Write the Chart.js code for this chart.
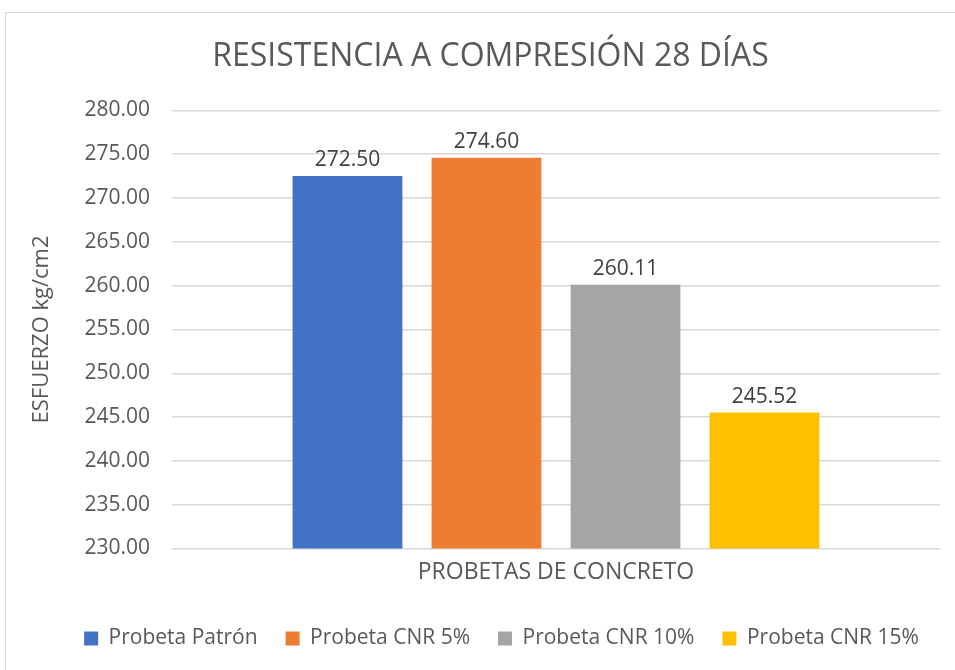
<!DOCTYPE html>
<html>
<head>
<meta charset="utf-8">
<script src="https://cdn.jsdelivr.net/npm/chart.js@4.4.0/dist/chart.umd.min.js"></script>
<style>
  html, body { margin: 0; padding: 0; background: #fff; overflow: hidden; }
  body { width: 955px; height: 670px; position: relative; }
  #frame { position: absolute; left: 5px; top: 12px; width: 970px; height: 680px;
           border: 1px solid #d9d9d9; box-sizing: border-box; }
  #wrap { position: absolute; left: 5px; top: 12px; width: 970px; height: 680px; }
</style>
</head>
<body>
<div id="frame"></div>
<div id="wrap"><canvas id="chart"></canvas></div>
<script>
// datos del gráfico
const categories = ['PROBETAS DE CONCRETO'];
const seriesNames = ['Probeta Patrón', 'Probeta CNR 5%', 'Probeta CNR 10%', 'Probeta CNR 15%'];
const seriesValues = [[272.50], [274.60], [260.11], [245.52]];
const seriesColors = ['#4472C4', '#ED7D31', '#A5A5A5', '#FFC000'];
const yMin = 230, yMax = 280, yStep = 5;

const FONT = "'Open Sans', 'Noto Sans', sans-serif";
const TEXT = '#595959';

// etiquetas de datos encima de cada barra
const dataLabels = {
    id: 'dataLabels',
    afterDatasetsDraw(chart) {
        const ctx = chart.ctx;
        ctx.save();
        ctx.font = `21px ${FONT}`;
        ctx.fillStyle = '#404040';
        ctx.textAlign = 'center';
        ctx.textBaseline = 'alphabetic';
        chart.data.datasets.forEach((ds, i) => {
            const meta = chart.getDatasetMeta(i);
            meta.data.forEach((bar, j) => {
                ctx.fillText(ds.data[j].toFixed(2), bar.x, bar.y - 10);
            });
        });
        ctx.restore();
    }
};

// desplazar leyenda y título un poco a la derecha (como en Excel)
const shiftBlocks = {
    id: 'shiftBlocks',
    afterLayout(chart) {
        const lg = chart.legend;
        if (lg) {
            lg.left += 24;
            lg.right += 24;
            if (lg.adjustHitBoxes) lg.adjustHitBoxes();
        }
        const tb = chart.titleBlock;
        if (tb) {
            tb.left += 13;
            tb.right += 13;
        }
    }
};

const datasets = seriesNames.map((name, i) => ({
    label: name,
    data: seriesValues[i],
    backgroundColor: seriesColors[i],
    borderWidth: 0,
    categoryPercentage: 0.724,
    barPercentage: 0.79
}));

new Chart(document.getElementById('chart'), {
    type: 'bar',
    data: { labels: categories, datasets: datasets },
    plugins: [dataLabels, shiftBlocks],
    options: {
        responsive: true,
        maintainAspectRatio: false,
        animation: false,
        layout: { padding: { left: 10, right: 35, top: 18, bottom: 33 } },
        scales: {
            y: {
                min: yMin,
                max: yMax,
                afterFit: axis => { axis.width = 157; },
                ticks: {
                    stepSize: yStep,
                    color: TEXT,
                    padding: 22,
                    font: { family: FONT, size: 21 },
                    callback: v => v.toFixed(2)
                },
                grid: { color: '#d9d9d9', lineWidth: 1.5, drawTicks: false },
                border: { display: false },
                title: {
                    display: true,
                    text: 'ESFUERZO kg/cm2',
                    color: TEXT,
                    font: { family: FONT, size: 22 },
                    padding: { top: 14, bottom: 0 }
                }
            },
            x: {
                afterFit: axis => { axis.height = 51.5; },
                ticks: {
                    color: TEXT,
                    font: { family: FONT, size: 23 },
                    padding: 2
                },
                grid: { display: false },
                border: { display: false }
            }
        },
        plugins: {
            title: {
                display: true,
                text: 'RESISTENCIA A COMPRESIÓN 28 DÍAS',
                color: TEXT,
                font: { family: FONT, size: 32, weight: 'normal' },
                padding: { top: 8, bottom: 34 }
            },
            legend: {
                position: 'bottom',
                labels: {
                    color: TEXT,
                    boxWidth: 14,
                    boxHeight: 14,
                    padding: 28,
                    font: { family: FONT, size: 21 }
                }
            },
            tooltip: { enabled: false }
        }
    }
});
</script>
</body>
</html>
